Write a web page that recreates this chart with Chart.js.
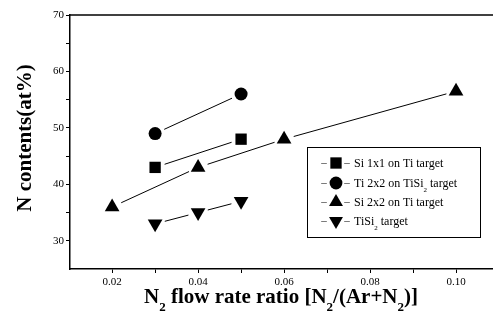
<!DOCTYPE html>
<html>
<head>
<meta charset="utf-8">
<script src="https://cdn.jsdelivr.net/npm/chart.js@4.4.1/dist/chart.umd.min.js"></script>
<style>
  body { margin: 0; background: #fff; }
  #wrap { width: 493px; height: 318px; position: relative; }
</style>
</head>
<body>
<div id="wrap"><canvas id="chart"></canvas></div>
<script>
// --- Dane wykresu ---
const seriesLabels = ['Si 1x1 on Ti target', 'Ti 2x2 on TiSi2 target', 'Si 2x2 on Ti target', 'TiSi2 target'];
const si1x1X = [0.03, 0.05];
const si1x1Y = [43, 48];
const ti2x2X = [0.03, 0.05];
const ti2x2Y = [49, 56];
const si2x2X = [0.02, 0.04, 0.06, 0.10];
const si2x2Y = [36, 43, 48, 56.5];
const tisi2X = [0.03, 0.04, 0.05];
const tisi2Y = [33, 35, 37];
const xTicks = [0.02, 0.04, 0.06, 0.08, 0.10];
const yTicks = [30, 40, 50, 60, 70];

const SERIF = '"Liberation Serif", "DejaVu Serif", serif';

function toPoints(xs, ys) {
    return xs.map((x, i) => ({ x, y: ys[i] }));
}

// tekst z indeksami dolnymi: parts = [[tekst, czyIndeks], ...]
function drawRich(ctx, parts, x, y, size, bold, align) {
    const mainFont = (bold ? 'bold ' : '') + size + 'px ' + SERIF;
    const subFont = (bold ? 'bold ' : '') + Math.round(size * 0.62) + 'px ' + SERIF;
    let total = 0;
    parts.forEach(([t, sub]) => {
        ctx.font = sub ? subFont : mainFont;
        total += ctx.measureText(t).width;
    });
    let cx = align === 'center' ? x - total / 2 : x;
    ctx.textAlign = 'left';
    ctx.textBaseline = 'alphabetic';
    parts.forEach(([t, sub]) => {
        ctx.font = sub ? subFont : mainFont;
        ctx.fillText(t, cx, sub ? y + size * 0.38 : y);
        cx += ctx.measureText(t).width;
    });
}

function drawMarker(ctx, style, x, y, r) {
    ctx.beginPath();
    if (style === 'rect') {
        const s = r * Math.SQRT1_2;
        ctx.rect(x - s, y - s, 2 * s, 2 * s);
    } else if (style === 'circle') {
        ctx.arc(x, y, r * 0.8, 0, Math.PI * 2);
    } else {
        const dir = style === 'up' ? 1 : -1;
        const h = r * 1.5;
        ctx.moveTo(x, y - dir * h * 2 / 3);
        ctx.lineTo(x - r * 0.87, y + dir * h / 3);
        ctx.lineTo(x + r * 0.87, y + dir * h / 3);
        ctx.closePath();
    }
    ctx.fill();
}

// linie z przerwami przy znacznikach
const gapLines = {
    id: 'gapLines',
    beforeDatasetsDraw(chart) {
        const ctx = chart.ctx;
        ctx.save();
        ctx.strokeStyle = '#000';
        ctx.lineWidth = 1;
        chart.data.datasets.forEach((ds, i) => {
            const pts = chart.getDatasetMeta(i).data;
            for (let k = 0; k < pts.length - 1; k++) {
                const a = pts[k], b = pts[k + 1];
                const dx = b.x - a.x, dy = b.y - a.y;
                const len = Math.hypot(dx, dy);
                const gap = 10;
                if (len < 2 * gap) continue;
                ctx.beginPath();
                ctx.moveTo(a.x + dx / len * gap, a.y + dy / len * gap);
                ctx.lineTo(b.x - dx / len * gap, b.y - dy / len * gap);
                ctx.stroke();
            }
        });
        ctx.restore();
    }
};

// ramka górna, tytuły osi i legenda
const decorations = {
    id: 'decorations',
    afterDraw(chart) {
        const ctx = chart.ctx;
        const area = chart.chartArea;
        ctx.save();
        ctx.strokeStyle = '#000';
        ctx.fillStyle = '#000';
        ctx.lineWidth = 1.5;
        ctx.beginPath();
        ctx.moveTo(area.left, area.top);
        ctx.lineTo(area.right, area.top);
        ctx.stroke();

        // tytuł osi Y
        ctx.save();
        ctx.translate(31, 138);
        ctx.rotate(-Math.PI / 2);
        drawRich(ctx, [['N contents(at%)', false]], 0, 0, 21, true, 'center');
        ctx.restore();

        // tytuł osi X
        drawRich(ctx, [['N', false], ['2', true], [' flow rate ratio [N', false], ['2', true],
            ['/(Ar+N', false], ['2', true], [')]', false]], 281, 303, 21, true, 'center');

        // legenda
        ctx.lineWidth = 1;
        ctx.strokeRect(307.5, 147.5, 173, 90);
        const styles = ['rect', 'circle', 'up', 'down'];
        const rows = [163, 183, 202, 221];
        const texts = [
            [['Si 1x1 on Ti target', false]],
            [['Ti 2x2 on TiSi', false], ['2', true], [' target', false]],
            [['Si 2x2 on Ti target', false]],
            [['TiSi', false], ['2', true], [' target', false]]
        ];
        rows.forEach((y, i) => {
            ctx.font = '11px ' + SERIF;
            ctx.textAlign = 'center';
            ctx.textBaseline = 'middle';
            ctx.fillText('–', 324, y);
            ctx.fillText('–', 347, y);
            drawMarker(ctx, styles[i], 336, y, 8);
            drawRich(ctx, texts[i], 354, y + 4, 12, false, 'left');
        });
        ctx.restore();
    }
};

const markerStyle = (style, rotation, radius) => ({
    showLine: false,
    pointStyle: style,
    rotation: rotation,
    pointRadius: radius,
    pointBackgroundColor: '#000',
    pointBorderColor: '#000',
    pointBorderWidth: 0
});

const ctx = document.getElementById('chart').getContext('2d');
const chart = new Chart(ctx, {
    type: 'scatter',
    data: {
        datasets: [
            { label: seriesLabels[0], data: toPoints(si1x1X, si1x1Y), ...markerStyle('rect', 0, 8) },
            { label: seriesLabels[1], data: toPoints(ti2x2X, ti2x2Y), ...markerStyle('circle', 0, 6.5) },
            { label: seriesLabels[2], data: toPoints(si2x2X, si2x2Y), ...markerStyle('triangle', 0, 8.5) },
            { label: seriesLabels[3], data: toPoints(tisi2X, tisi2Y), ...markerStyle('triangle', 180, 8.5) }
        ]
    },
    options: {
        responsive: true,
        maintainAspectRatio: false,
        animation: false,
        layout: { autoPadding: false, padding: { top: 15, left: 0, right: 0, bottom: 0 } },
        plugins: { legend: { display: false }, tooltip: { enabled: false } },
        scales: {
            x: {
                type: 'linear',
                min: 0.0102,
                max: 0.1086,
                afterBuildTicks: axis => {
                    const t = [];
                    for (let v = 0.02; v <= 0.1001; v += 0.01) t.push({ value: Math.round(v * 100) / 100 });
                    axis.ticks = t;
                },
                afterFit: axis => {
                    axis.height = 49;
                    axis.paddingLeft = 0;
                    axis.paddingRight = 0;
                },
                border: { display: true, color: '#000', width: 1.5 },
                grid: { drawOnChartArea: false, color: '#000', tickLength: 4, tickWidth: 1 },
                ticks: {
                    color: '#000',
                    padding: 3,
                    maxRotation: 0,
                    font: { family: SERIF, size: 11 },
                    callback: v => xTicks.some(t => Math.abs(t - v) < 1e-6) ? v.toFixed(2) : ''
                }
            },
            y: {
                min: 25,
                max: 70,
                afterBuildTicks: axis => {
                    const t = [];
                    for (let v = 30; v <= 70; v += 5) t.push({ value: v });
                    axis.ticks = t;
                },
                afterFit: axis => {
                    axis.width = 70;
                    axis.paddingTop = 0;
                    axis.paddingBottom = 0;
                },
                border: { display: true, color: '#000', width: 1.5 },
                grid: { drawOnChartArea: false, color: '#000', tickLength: 4, tickWidth: 1 },
                ticks: {
                    color: '#000',
                    padding: 2,
                    font: { family: SERIF, size: 11 },
                    callback: v => yTicks.includes(v) ? String(v) : ''
                }
            }
        }
    },
    plugins: [gapLines, decorations]
});
</script>
</body>
</html>
